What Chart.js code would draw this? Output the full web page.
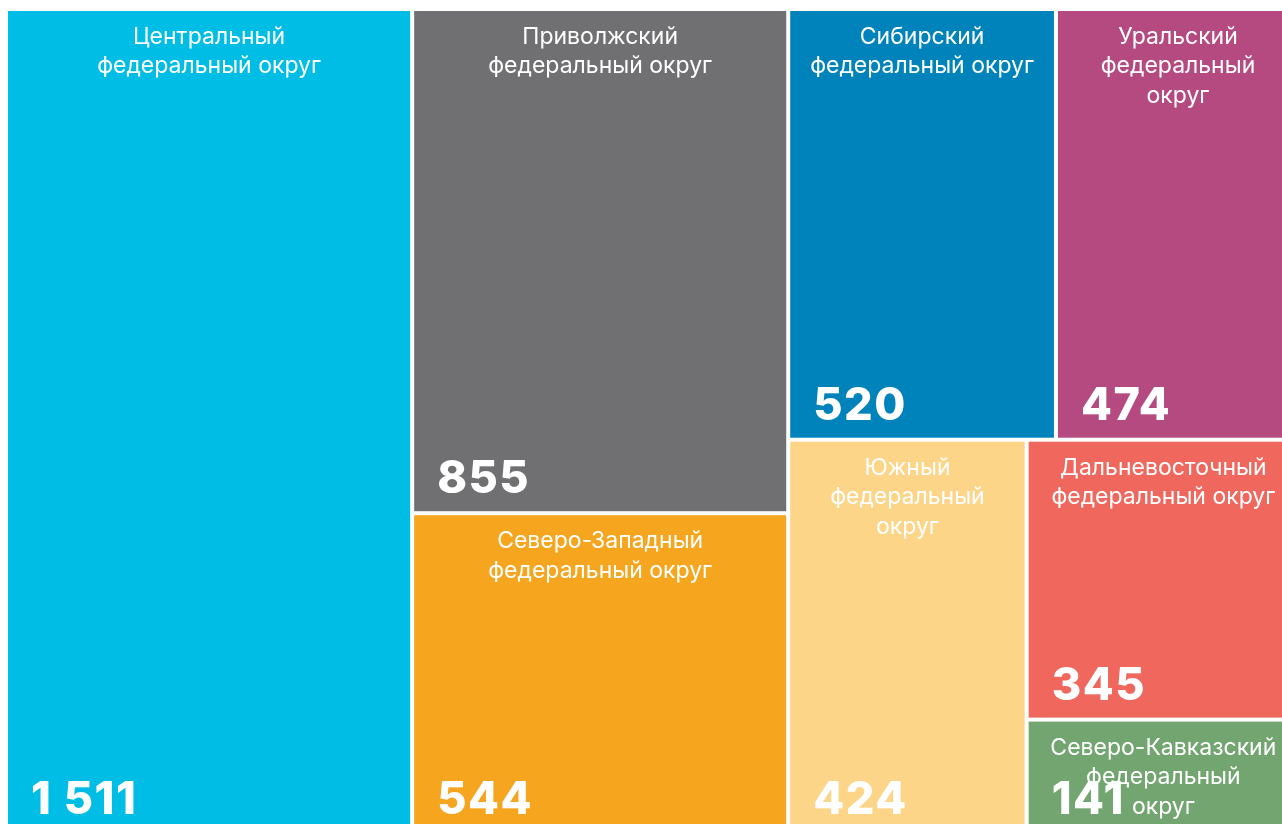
<!DOCTYPE html>
<html><head><meta charset="utf-8">
<script src="https://cdn.jsdelivr.net/npm/chart.js@4.4.1/dist/chart.umd.min.js"></script>
<style>
html,body{margin:0;padding:0;overflow:hidden;background:#fff}
#wrap{width:1300px;height:834px;position:relative}
</style></head>
<body><div id="wrap"><canvas id="c" width="1300" height="834"></canvas></div>
<script>
// ---- data ----
const districts = ["Центральный", "Приволжский", "Северо-Западный", "Сибирский", "Уральский", "Южный", "Дальневосточный", "Северо-Кавказский"];
const labelLines = [
  ["Центральный", "федеральный округ"],
  ["Приволжский", "федеральный округ"],
  ["Северо-Западный", "федеральный округ"],
  ["Сибирский", "федеральный округ"],
  ["Уральский", "федеральный", "округ"],
  ["Южный", "федеральный", "округ"],
  ["Дальневосточный", "федеральный округ"],
  ["Северо-Кавказский", "федеральный", "округ"]
];
const values = [1511, 855, 544, 520, 474, 424, 345, 141];
const colors = ["#00BDE6", "#707072", "#F6A61E", "#0083BB", "#B54A81", "#FDD588", "#F0675D", "#73A570"];

// ---- squarified treemap layout (in proportional units) ----
function worst(row, side) {
  const s = row.reduce((a, b) => a + b, 0);
  const mx = Math.max(...row), mn = Math.min(...row);
  return Math.max(side * side * mx / (s * s), (s * s) / (side * side * mn));
}
function squarify(vals, w, h) {
  const total = vals.reduce((a, b) => a + b, 0);
  const k = w * h / total;
  const areas = vals.map(v => v * k);
  const rects = [];
  let rx = 0, ry = 0, rw = w, rh = h, i = 0;
  while (i < areas.length) {
    const side = Math.min(rw, rh);
    let row = [areas[i]], j = i + 1, best = worst(row, side);
    while (j < areas.length) {
      const cand = row.concat(areas[j]);
      const wr = worst(cand, side);
      if (wr <= best) { row = cand; best = wr; j++; } else break;
    }
    const sum = row.reduce((a, b) => a + b, 0);
    if (rw >= rh) {
      const t = sum / rh; let cy = ry;
      row.forEach(a => { const hh = a / t; rects.push({x0: rx, y0: cy, x1: rx + t, y1: cy + hh}); cy += hh; });
      rx += t; rw -= t;
    } else {
      const t = sum / rw; let cx = rx;
      row.forEach(a => { const ww = a / t; rects.push({x0: cx, y0: ry, x1: cx + ww, y1: ry + t}); cx += ww; });
      ry += t; rh -= t;
    }
    i = j;
  }
  return rects;
}
function fmt(v) { return String(v).replace(/\B(?=(\d{3})+(?!\d))/g, " "); }

const treemapPlugin = {
  id: 'treemap',
  afterDatasetsDraw(chart) {
    const {ctx, chartArea, scales: {x, y}} = chart;
    const ds = chart.data.datasets[0];
    const aspect = chartArea.width / chartArea.height;
    const W = 1000 * aspect, H = 1000;
    const rects = squarify(ds.data, W, H);
    const gap = 2;
    ctx.save();
    rects.forEach((r, i) => {
      const px0 = x.getPixelForValue(r.x0 / W * 1000), px1 = x.getPixelForValue(r.x1 / W * 1000);
      const py0 = y.getPixelForValue(r.y0), py1 = y.getPixelForValue(r.y1);
      const L = px0 + gap, T = py0 + gap, R = px1 - gap, B = py1 - gap;
      ctx.fillStyle = ds.backgroundColor[i];
      ctx.fillRect(L, T, R - L, B - T);
      // label
      ctx.fillStyle = '#ffffff';
      ctx.font = '400 23px Inter';
      ctx.letterSpacing = '0px';
      ctx.textAlign = 'center';
      ctx.textBaseline = 'middle';
      const cx = (L + R) / 2;
      labelLines[i].forEach((line, li) => ctx.fillText(line, cx, T + 26 + li * 29.5));
      // value
      ctx.font = '800 45px Inter';
      ctx.letterSpacing = '1.5px';
      ctx.textAlign = 'left';
      ctx.textBaseline = 'alphabetic';
      ctx.fillText(fmt(ds.data[i]), L + 23, B - 18);
    });
    ctx.restore();
  }
};

new Chart(document.getElementById('c'), {
  type: 'scatter',
  data: {
    labels: districts,
    datasets: [{ label: 'Федеральные округа', data: values, backgroundColor: colors, pointRadius: 0, showLine: false }]
  },
  options: {
    responsive: false,
    animation: false,
    devicePixelRatio: 1,
    layout: { padding: { left: 6, top: 9, right: 0, bottom: 0 } },
    plugins: { legend: { display: false }, tooltip: { enabled: false } },
    scales: {
      x: { type: 'linear', min: 0, max: 1000, display: false },
      y: { type: 'linear', min: 0, max: 1000, reverse: true, display: false }
    }
  },
  plugins: [treemapPlugin]
});
</script>
</body></html>
